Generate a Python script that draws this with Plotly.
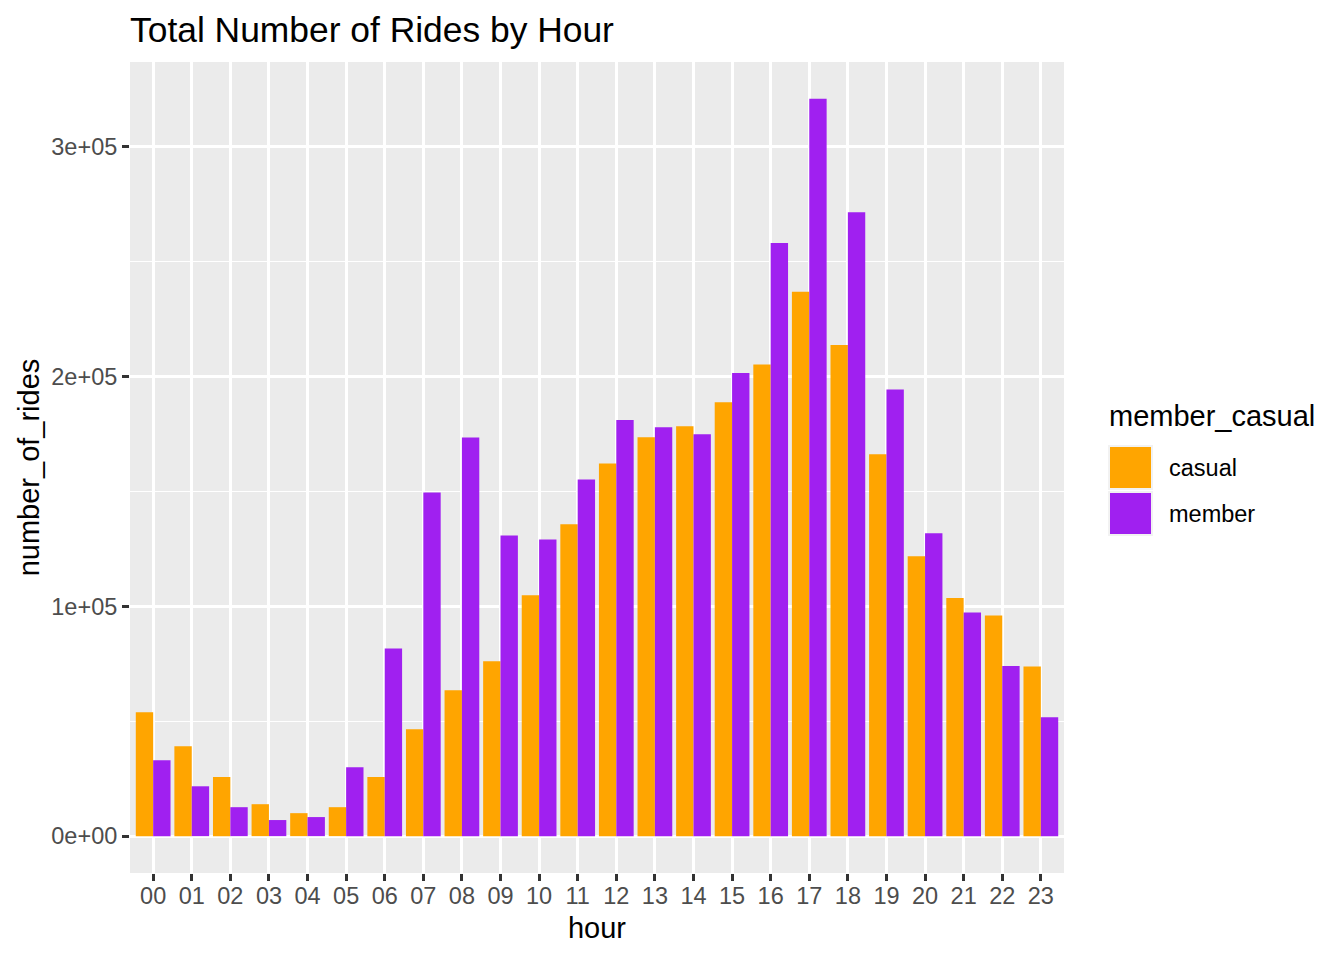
import plotly.graph_objects as go

hours = ["00","01","02","03","04","05","06","07","08","09","10","11",
         "12","13","14","15","16","17","18","19","20","21","22","23"]
casual = [53900, 39100, 25700, 13900, 10000, 12600, 25700, 46500, 63500, 76100,
          104800, 135700, 162200, 173600, 178400, 188900, 205300, 236900, 213800,
          166200, 121800, 103600, 96000, 73800]
member = [33000, 21700, 12600, 7000, 8300, 30000, 81700, 149600, 173500, 130900,
          129100, 155200, 181100, 178000, 174900, 201600, 258200, 320900, 271600,
          194400, 131800, 97300, 74000, 51800]
y_tickvals = [0, 100000, 200000, 300000]
y_ticktext = ["0e+00", "1e+05", "2e+05", "3e+05"]
series_names = ["casual", "member"]
colors = ["#FFA500", "#A020F0"]

FONT = "Liberation Sans, Arial, Helvetica, sans-serif"
W, H = 1344, 960
L, R, T, B = 130, 1064, 62, 873

fig = go.Figure()
for name, vals, col in zip(series_names, [casual, member], colors):
    fig.add_trace(go.Bar(x=hours, y=vals, name=name, marker_color=col,
                         marker_line_width=0, showlegend=False))

ymax = max(max(casual), max(member))
pad = ymax * 0.05

fig.update_layout(
    width=W, height=H,
    margin=dict(l=L, r=W - R, t=T, b=H - B, pad=0),
    paper_bgcolor="white", plot_bgcolor="#EBEBEB",
    barmode="group", bargap=0.1, bargroupgap=0,
    font=dict(family=FONT, color="#4D4D4D"),
    title=dict(text="Total Number of Rides by Hour", x=L / W, xanchor="left",
               y=1 - 30 / H, yanchor="middle",
               font=dict(size=35.4, color="black", family=FONT)),
    xaxis=dict(
        type="category", range=[-0.6, 23.6],
        showgrid=True, gridcolor="white", gridwidth=2.6,
        ticks="outside", ticklen=7, tickwidth=2.5, tickcolor="#333333",
        ticklabelstandoff=-5,
        tickfont=dict(size=23.5, color="#4D4D4D"),
        title=dict(text="hour", font=dict(size=29, color="black"), standoff=9),
        zeroline=False, showline=False,
    ),
    yaxis=dict(
        range=[-pad, ymax + pad],
        tickvals=y_tickvals, ticktext=y_ticktext,
        showgrid=True, gridcolor="white", gridwidth=2.6,
        minor=dict(dtick=50000, tick0=0, showgrid=True, gridcolor="white", gridwidth=1.3),
        ticks="outside", ticklen=7, tickwidth=2.5, tickcolor="#333333",
        tickfont=dict(size=23.5, color="#4D4D4D"),
        title=dict(text="number_of_rides", font=dict(size=29, color="black"), standoff=3),
        zeroline=False, showline=False,
    ),
)

def px_x(px):
    return (px - L) / (R - L)

def px_y(py):
    return (B - py) / (B - T)

# Legend (ggplot-like)
fig.add_annotation(x=px_x(1107), y=px_y(416), xref="paper", yref="paper",
                   text="member_casual", showarrow=False, xanchor="left", yanchor="middle",
                   font=dict(size=29, color="black", family=FONT))
key_tops = [445, 491]
for name, col, top in zip(series_names, colors, key_tops):
    fig.add_shape(type="rect", xref="paper", yref="paper",
                  x0=px_x(1108), x1=px_x(1153), y0=px_y(top + 45), y1=px_y(top),
                  fillcolor="#F2F2F2", line_width=0, layer="above")
    fig.add_shape(type="rect", xref="paper", yref="paper",
                  x0=px_x(1110), x1=px_x(1151), y0=px_y(top + 43), y1=px_y(top + 2),
                  fillcolor=col, line_width=0, layer="above")
    fig.add_annotation(x=px_x(1167), y=px_y(top + 23), xref="paper", yref="paper",
                       text=name, showarrow=False, xanchor="left", yanchor="middle",
                       font=dict(size=23.5, color="black", family=FONT))

fig.write_html("out.html")
